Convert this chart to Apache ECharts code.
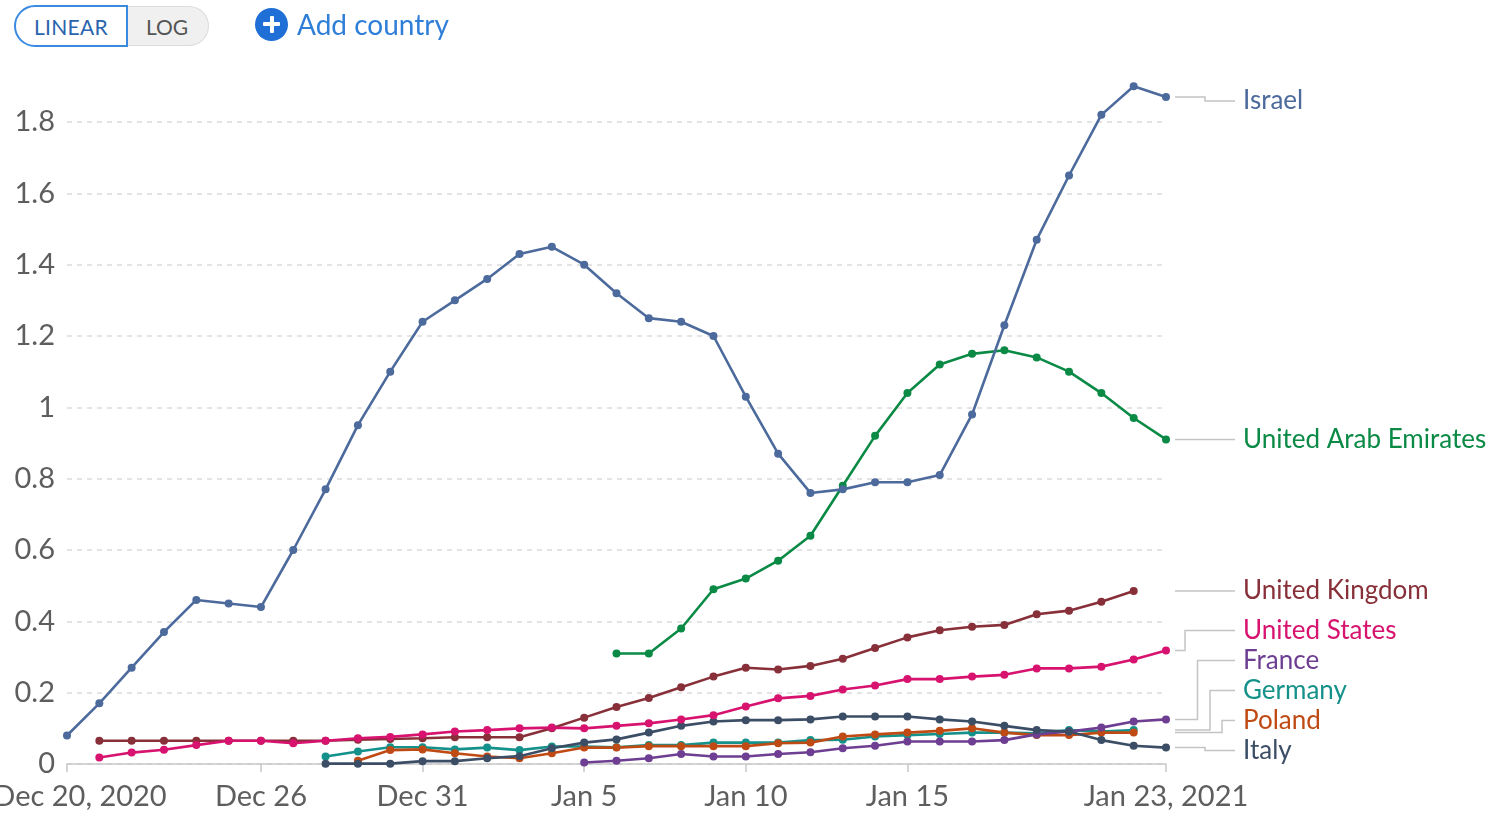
<!DOCTYPE html>
<html>
<head>
<meta charset="utf-8">
<script src="https://cdn.jsdelivr.net/npm/echarts@6/dist/echarts.min.js"></script>
<style>
  html, body { margin: 0; padding: 0; background: #fff; }
  #chart { position: absolute; left: 0; top: 0; width: 1491px; height: 822px; }
  .ctl { position: absolute; font-family: Lato, sans-serif; box-sizing: border-box; }
  #linear { left: 14px; top: 5px; width: 114px; height: 42px; border: 2px solid #3b8ae2; border-radius: 21px 0 0 21px;
            color: #2a64ad; font-size: 21px; display: flex; align-items: center; justify-content: center; letter-spacing: 0.3px; background: #fff; z-index: 2; }
  #log { left: 126px; top: 6px; width: 83px; height: 40px; border: 1px solid #dcdcdc; border-left: none; border-radius: 0 20px 20px 0;
         background: #f0f0f0; color: #555; font-size: 21px; display: flex; align-items: center; justify-content: center; }
  #add { left: 255px; top: 6px; height: 36px; display: flex; align-items: center; color: #2f7ed8; font-size: 28px; }
  #add .plus { width: 33px; height: 33px; border-radius: 50%; background: #1f6fd6; position: relative; margin-right: 9px; }
  #add .plus:before, #add .plus:after { content: ''; position: absolute; background: #fff; border-radius: 1px; }
  #add .plus:before { left: 8px; top: 14.5px; width: 17px; height: 4px; }
  #add .plus:after { left: 14.5px; top: 8px; width: 4px; height: 17px; }
</style>
</head>
<body>
<div id="chart"></div>
<div class="ctl" id="linear">LINEAR</div>
<div class="ctl" id="log">LOG</div>
<div class="ctl" id="add"><span class="plus"></span><span>Add country</span></div>
<script>
// ---- data ----
const categories = ['Dec 20','Dec 21','Dec 22','Dec 23','Dec 24','Dec 25','Dec 26','Dec 27','Dec 28','Dec 29','Dec 30','Dec 31',
  'Jan 1','Jan 2','Jan 3','Jan 4','Jan 5','Jan 6','Jan 7','Jan 8','Jan 9','Jan 10','Jan 11','Jan 12','Jan 13','Jan 14','Jan 15',
  'Jan 16','Jan 17','Jan 18','Jan 19','Jan 20','Jan 21','Jan 22','Jan 23'];
const tickDates = ['Dec 20','Dec 26','Dec 31','Jan 5','Jan 10','Jan 15','Jan 23'];
const tickText  = ['Dec 20, 2020','Dec 26','Dec 31','Jan 5','Jan 10','Jan 15','Jan 23, 2021'];
const yTicks = [0, 0.2, 0.4, 0.6, 0.8, 1, 1.2, 1.4, 1.6, 1.8];

const countries = ['Israel','United Arab Emirates','United Kingdom','United States','France','Germany','Poland','Italy'];

const israel = [0.08,0.17,0.27,0.37,0.46,0.45,0.44,0.60,0.77,0.95,1.10,1.24,1.30,1.36,1.43,1.45,1.40,1.32,1.25,1.24,1.20,1.03,0.87,0.76,0.77,0.79,0.79,0.81,0.98,1.23,1.47,1.65,1.82,1.90,1.87];
const uae = [null,null,null,null,null,null,null,null,null,null,null,null,null,null,null,null,null,
  0.31,0.31,0.38,0.49,0.52,0.57,0.64,0.78,0.92,1.04,1.12,1.15,1.16,1.14,1.10,1.04,0.97,0.91];
const uk = [null,0.065,0.065,0.065,0.065,0.065,0.065,0.065,0.065,0.068,0.07,0.072,0.075,0.075,0.075,0.10,0.13,0.16,0.185,0.215,0.245,0.27,0.265,0.275,0.295,0.325,0.355,0.375,0.385,0.39,0.42,0.43,0.455,0.485,null];
const us = [null,0.018,0.032,0.04,0.053,0.065,0.065,0.058,0.065,0.072,0.076,0.083,0.091,0.095,0.10,0.102,0.10,0.107,0.114,0.125,0.137,0.161,0.184,0.191,0.209,0.22,0.238,0.238,0.245,0.25,0.268,0.268,0.273,0.293,0.318];
const france = [null,null,null,null,null,null,null,null,null,null,null,null,null,null,null,null,
  0.004,0.009,0.016,0.028,0.021,0.021,0.028,0.033,0.044,0.051,0.063,0.063,0.063,0.067,0.083,0.091,0.102,0.119,0.125];
const germany = [null,null,null,null,null,null,null,null,
  0.021,0.035,0.047,0.047,0.041,0.046,0.039,0.049,0.049,0.047,0.053,0.053,0.06,0.06,0.06,0.067,0.068,0.077,0.081,0.084,0.088,0.088,0.086,0.095,0.091,0.095,null];
const poland = [null,null,null,null,null,null,null,null,null,
  0.009,0.039,0.041,0.03,0.021,0.016,0.03,0.046,0.046,0.05,0.05,0.05,0.05,0.058,0.06,0.077,0.083,0.088,0.093,0.10,0.088,0.081,0.081,0.088,0.088,null];
const italy = [null,null,null,null,null,null,null,null,
  0.001,0.001,0.001,0.008,0.008,0.016,0.022,0.044,0.06,0.069,0.088,0.107,0.119,0.123,0.123,0.125,0.133,0.133,0.133,0.125,0.119,0.107,0.095,0.091,0.067,0.051,0.046];

const seriesValues = [israel, uae, uk, us, france, germany, poland, italy];
const colors = ['#4c6a9c','#0b8a46','#883039','#d7126f','#6d3e91','#14918a','#c04a14','#3c4e66'];
// draw order (first drawn at bottom)
const drawOrder = [1, 0, 2, 5, 6, 4, 7, 3];

const chart = echarts.init(document.getElementById('chart'), null, { renderer: 'canvas' });

const series = drawOrder.map(idx => ({
  name: countries[idx],
  type: 'line',
  data: seriesValues[idx],
  color: colors[idx],
  symbol: 'circle',
  symbolSize: 8,
  showSymbol: true,
  clip: false,
  lineStyle: { width: 2.6 },
  emphasis: { disabled: true },
  animation: false,
  z: 2
}));

chart.setOption({
  animation: false,
  grid: { left: 67, right: 325, top: 122, bottom: 58, containLabel: false, outerBoundsMode: 'none' },
  xAxis: {
    type: 'category',
    data: categories,
    boundaryGap: false,
    axisLine: { show: true, lineStyle: { color: '#c8c8c8', width: 1.5 } },
    axisTick: { show: true, length: 8, lineStyle: { color: '#c8c8c8', width: 1.5 },
                interval: (i, v) => tickDates.indexOf(v) >= 0 },
    axisLabel: {
      interval: (i, v) => tickDates.indexOf(v) >= 0,
      formatter: v => {
        const k = tickDates.indexOf(v);
        return k === 0 ? '{first|' + tickText[k] + '}' : tickText[k];
      },
      rich: { first: { fontFamily: 'Lato', fontSize: 29, color: '#5e5e5e', padding: [0, 0, 0, 26] } },
      fontFamily: 'Lato', fontSize: 29, color: '#5e5e5e', margin: 18, showMinLabel: true, showMaxLabel: true, hideOverlap: false
    },
    splitLine: { show: false }
  },
  yAxis: {
    type: 'value',
    min: 0, max: 1.8, interval: 0.2,
    axisLine: { show: false },
    axisTick: { show: false },
    axisLabel: { fontFamily: 'Lato', fontSize: 29, color: '#5e5e5e', margin: 12,
                 formatter: v => { const t = yTicks.find(y => Math.abs(y - v) < 1e-9); return t === undefined ? '' : String(t); } },
    splitLine: { show: true, lineStyle: { color: '#dcdcdc', type: [5, 5], width: 1.5 } }
  },
  series: series
});

// ---- end labels with connector lines ----
function layoutLabels() {
  const gridRightX = chart.convertToPixel({ xAxisIndex: 0 }, categories[categories.length - 1]);
  const lineStartX = gridRightX + 9;
  const labelX = 1243;
  const items = countries.map((name, idx) => {
    const vals = seriesValues[idx];
    let last = vals.length - 1;
    while (vals[last] == null) last--;
    const p = chart.convertToPixel({ xAxisIndex: 0, yAxisIndex: 0 }, [last, vals[last]]);
    return { name, color: colors[idx], anchorY: p[1], y: p[1] };
  });
  items.sort((a, b) => a.anchorY - b.anchorY);
  const gap = 30;
  items[items.length - 1].y = items[items.length - 1].anchorY + 3;
  for (let k = items.length - 2; k >= 0; k--) {
    items[k].y = Math.min(items[k].anchorY, items[k + 1].y - gap);
  }
  if (items[0].y < 101) items[0].y = 101;
  const elements = [];
  let rank = 0;
  items.forEach(it => {
    const diff = Math.abs(it.y - it.anchorY);
    let ex;
    if (diff > 6) { ex = Math.min(lineStartX + 10 + 12.5 * rank, lineStartX + 47); rank++; }
    else if (diff > 1.5) { ex = lineStartX + 30; }
    else { ex = lineStartX + 30; }
    elements.push({
      type: 'polyline', silent: true, z: 1,
      shape: { points: [[lineStartX, it.anchorY], [ex, it.anchorY], [ex, it.y], [labelX - 8, it.y]] },
      style: { stroke: '#c4c4c4', lineWidth: 1.5, fill: null }
    });
    elements.push({
      type: 'text', silent: true, z: 3,
      x: labelX, y: it.y,
      style: { text: it.name, fill: it.color, font: '26px Lato', verticalAlign: 'middle', align: 'left' }
    });
  });
  chart.setOption({ graphic: { elements: elements } });
}
layoutLabels();
</script>
</body>
</html>
